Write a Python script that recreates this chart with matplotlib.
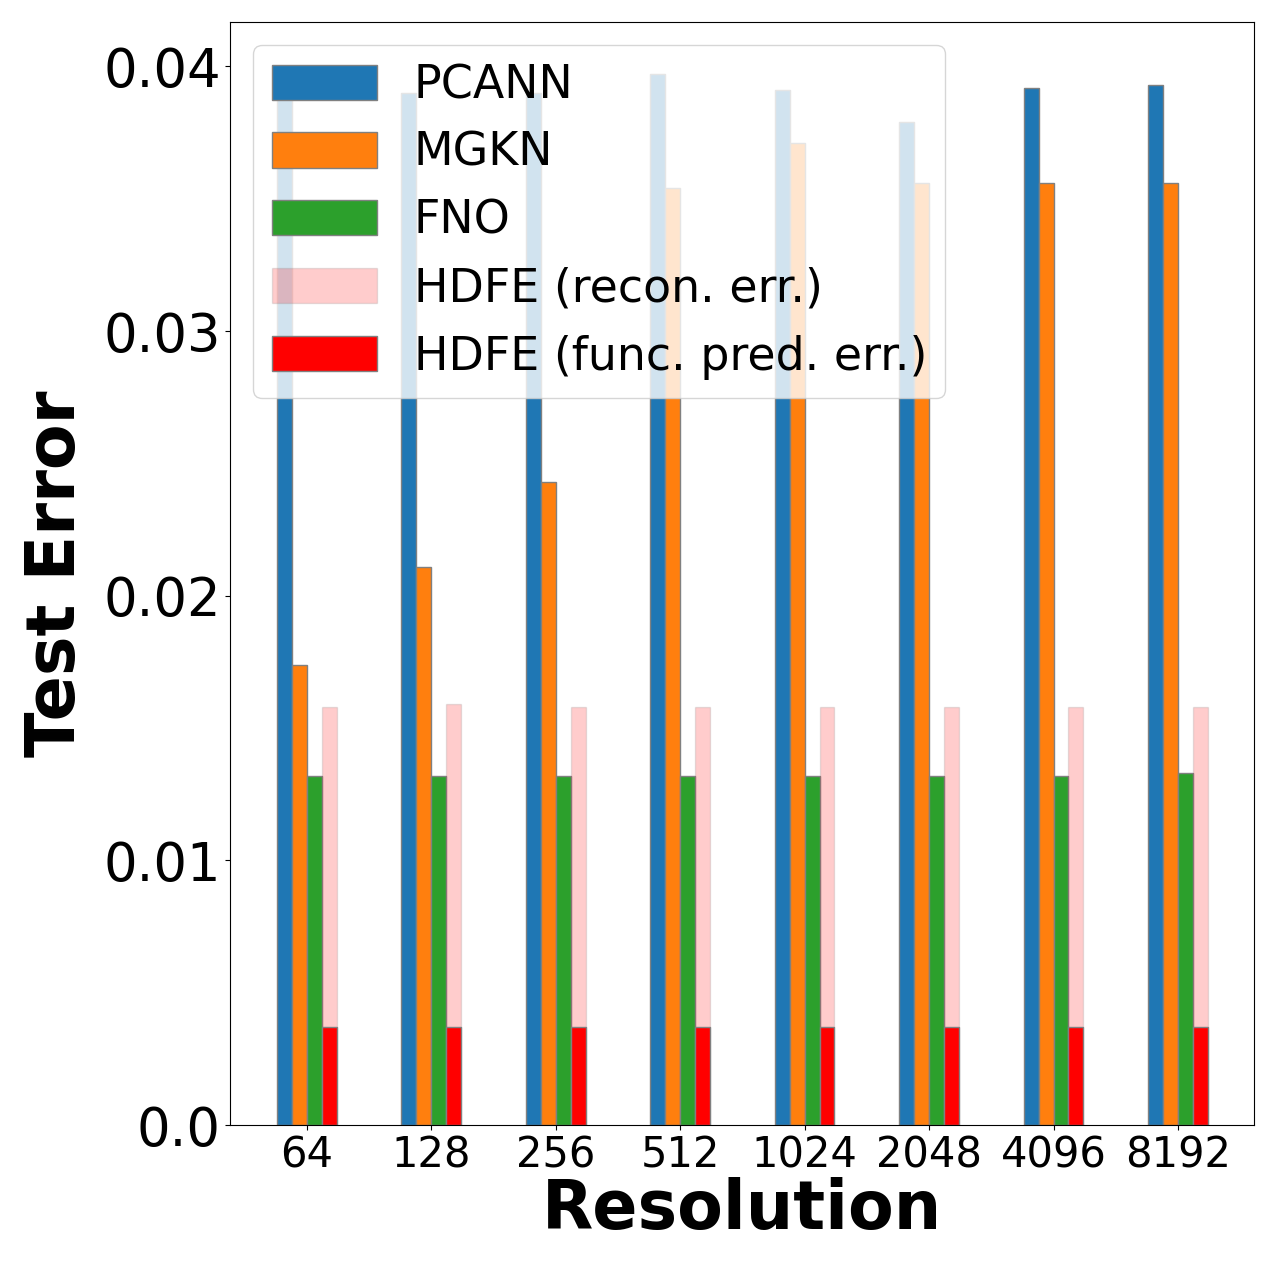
import numpy as np
import matplotlib
matplotlib.use("Agg")
from matplotlib import pyplot as plt

resolutions = ['64', '128', '256', '512', '1024', '2048', '4096', '8192']
pcann = [0.0390, 0.0390, 0.0390, 0.0397, 0.0391, 0.0379, 0.0392, 0.0393]
mgkn = [0.0174, 0.0211, 0.0243, 0.0354, 0.0371, 0.0356, 0.0356, 0.0356]
fno = [0.0132, 0.0132, 0.0132, 0.0132, 0.0132, 0.0132, 0.0132, 0.0133]
hdfe_recon = [0.0158, 0.0159, 0.0158, 0.0158, 0.0158, 0.0158, 0.0158, 0.0158]
hdfe_pred = [0.0037, 0.0037, 0.0037, 0.0037, 0.0037, 0.0037, 0.0037, 0.0037]

x = np.arange(len(resolutions))
w = 0.12

fig = plt.figure(figsize=(12.8, 12.8), dpi=100)
ax = fig.add_axes([0.18, 0.121, 0.8, 0.862])

ax.bar(x - 1.5 * w, pcann, w, color='tab:blue', edgecolor='grey', label='PCANN')
ax.bar(x - 0.5 * w, mgkn, w, color='tab:orange', edgecolor='grey', label='MGKN')
ax.bar(x + 0.5 * w, fno, w, color='tab:green', edgecolor='grey', label='FNO')
ax.bar(x + 1.5 * w, hdfe_recon, w, color='red', edgecolor='grey', alpha=0.2,
       label='HDFE (recon. err.)')
ax.bar(x + 1.5 * w, hdfe_pred, w, color='red', edgecolor='grey',
       label='HDFE (func. pred. err.)')

ax.set_xticks(x)
ax.set_xticklabels(resolutions, fontsize=30)
ax.set_yticks([0.0, 0.01, 0.02, 0.03, 0.04])
ax.set_yticklabels(['0.0', '0.01', '0.02', '0.03', '0.04'], fontsize=38)
ax.set_xlabel("Resolution", fontsize=48, fontweight='bold', labelpad=0)
ax.set_ylabel("Test Error", fontsize=48, fontweight='bold', labelpad=10)
ax.legend(loc='upper left', fontsize=33, handlelength=2.3, handleheight=0.8)

fig.savefig("out.png", dpi=100)
